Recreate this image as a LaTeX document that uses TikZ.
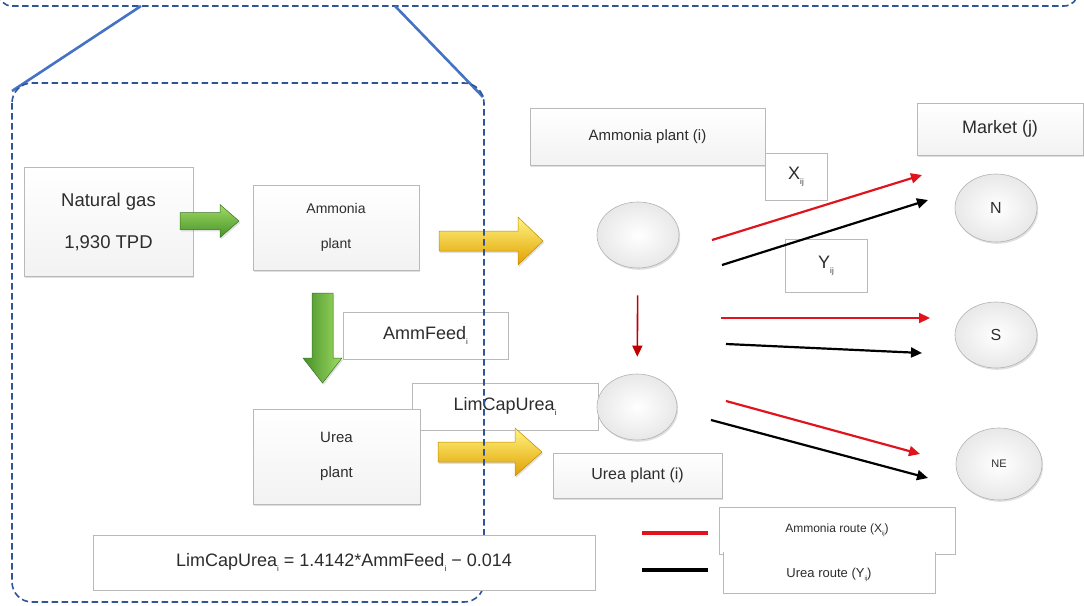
\documentclass[tikz,border=0pt]{standalone}
\usepackage{fontspec}
\setmainfont{Liberation Sans}
\usetikzlibrary{shapes.geometric,arrows.meta,shadows}
\definecolor{dashblue}{RGB}{47,85,151}
\definecolor{lineblue}{RGB}{68,114,196}
\definecolor{rred}{RGB}{225,20,30}
\definecolor{dred}{RGB}{192,0,0}
\definecolor{txt}{RGB}{45,45,45}
\definecolor{gtop}{RGB}{160,220,100}
\definecolor{gbot}{RGB}{70,145,40}
\definecolor{gdraw}{RGB}{60,115,40}
\definecolor{ytop}{RGB}{255,245,130}
\definecolor{ymid}{RGB}{255,215,0}
\definecolor{ybot}{RGB}{225,160,0}
\definecolor{ydraw}{RGB}{190,140,0}
\newcommand\sbs[2][8]{\raisebox{-0.5ex}{\fontsize{#1}{#1}\selectfont #2}}
\newcommand\harrow[7]{\path[#7] (#1,{#3-#4}) -- (#6,{#3-#4}) -- (#6,{#3-#5}) -- (#2,#3) -- (#6,{#3+#5}) -- (#6,{#3+#4}) -- (#1,{#3+#4}) -- cycle;}
\newcommand\varrow[7]{\path[#7] ({#3-#4},#1) -- ({#3-#4},#6) -- ({#3-#5},#6) -- (#3,#2) -- ({#3+#5},#6) -- ({#3+#4},#6) -- ({#3+#4},#1) -- cycle;}
\begin{document}
\begin{tikzpicture}[x=1pt,y=-1pt,
  shad/.style={drop shadow={shadow xshift=1.2pt, shadow yshift=-1.8pt, opacity=0.25}},
  box/.style={rectangle, draw=gray!55, line width=0.6pt, top color=white, bottom color=gray!10, inner sep=0pt, text=txt, shad},
  flat/.style={rectangle, draw=gray!55, line width=0.6pt, fill=white, inner sep=0pt, text=txt},
  ball/.style={ellipse, draw=gray!60, line width=0.6pt, inner color=white, outer color=gray!18, inner sep=0pt, text=txt, shad},
  dashbox/.style={draw=dashblue, line width=1.6pt, dash pattern=on 6.5pt off 3.5pt},
  zoomline/.style={draw=lineblue, line width=2.6pt},
  route/.style={line width=2.2pt, -{Triangle[length=11pt,width=10pt]}},
  garrowh/.style={top color=gtop, bottom color=gbot, draw=gdraw, line width=0.5pt, shad},
  garrowv/.style={left color=gbot, right color=gtop, draw=gdraw, line width=0.5pt, shad},
  yarrow/.style={top color=ytop, middle color=ymid, bottom color=ybot, draw=ydraw, line width=0.5pt, shad},
  legline/.style={line width=4pt}
]
\useasboundingbox (0,0) rectangle (1084,605);

% zoom call-out
\draw[dashbox, rounded corners=14] (-2,-40) rectangle (1078,6);
\draw[zoomline] (12,91) -- (141,6);
\draw[zoomline] (395,6) -- (483,97);

% left process boxes
\node[box, minimum width=169, minimum height=109, align=center, font=\fontsize{18.5}{42}\selectfont] (ng) at (108.5,222) {Natural gas\\1,930 TPD};
\node[box, minimum width=166, minimum height=85, align=center, font=\fontsize{14}{35}\selectfont] (ap) at (336,227.5) {Ammonia\\plant};
\node[flat, minimum width=165, minimum height=47, font=\fontsize{18}{20}\selectfont] (af) at (425.5,335.5) {AmmFeed\sbs{i}};
\node[flat, minimum width=186, minimum height=47, font=\fontsize{18}{20}\selectfont] (lc) at (505,406.5) {LimCapUrea\sbs{i}};
\node[box, minimum width=167, minimum height=95, align=center, font=\fontsize{15}{35}\selectfont] (up) at (336.5,456.5) {Urea\\plant};

% block arrows
\harrow{180}{239}{221}{8.5}{16.5}{220}{garrowh}
\varrow{293}{383}{322.5}{10.5}{19.5}{358}{garrowv}
\harrow{439}{543}{241}{10}{24}{518}{yarrow}
\harrow{438}{542}{452}{10}{24}{515}{yarrow}

% right network
\node[box, minimum width=235, minimum height=57, font=\fontsize{15}{18}\selectfont] (api) at (647.5,136.5) {Ammonia plant (i)};
\node[flat, minimum width=62, minimum height=47, font=\fontsize{18}{20}\selectfont] (x) at (796,176.5) {X\sbs{ij}};
\node[flat, minimum width=82, minimum height=53, font=\fontsize{18}{20}\selectfont] (y) at (826,265.5) {Y\sbs{ij}};
\node[box, minimum width=166, minimum height=52, font=\fontsize{18}{20}\selectfont] (mk) at (1000,129) {Market (j)};
\node[box, minimum width=169, minimum height=45, font=\fontsize{16}{18}\selectfont] (upi) at (637.5,475.5) {Urea plant (i)};

\node[ball, minimum width=82, minimum height=66] (an) at (638,235) {};
\node[ball, minimum width=80, minimum height=66] (un) at (637,407) {};
\node[ball, minimum width=82, minimum height=68, font=\fontsize{16}{18}\selectfont] (nN) at (996,208) {N};
\node[ball, minimum width=82, minimum height=66, font=\fontsize{16}{18}\selectfont] (nS) at (996,335) {S};
\node[ball, minimum width=86, minimum height=72, font=\fontsize{11}{13}\selectfont] (nNE) at (999,464) {NE};

\draw[dred, line width=1.6pt, -{Triangle[length=11pt,width=10pt]}, shorten <=27pt, shorten >=17pt] (an) -- (un);

\coordinate (rNs) at (712,240);  \coordinate (rNe) at (922,175);
\coordinate (bNs) at (722,265);  \coordinate (bNe) at (928,200);
\coordinate (rSs) at (721,318);  \coordinate (rSe) at (930,318);
\coordinate (bSs) at (726,344);  \coordinate (bSe) at (922,353);
\coordinate (rEs) at (726,401);  \coordinate (rEe) at (920,454);
\coordinate (bEs) at (711,420);  \coordinate (bEe) at (928,478);
\draw[route, rred] (rNs) -- (rNe);
\draw[route, black] (bNs) -- (bNe);
\draw[route, rred] (rSs) -- (rSe);
\draw[route, black] (bSs) -- (bSe);
\draw[route, rred] (rEs) -- (rEe);
\draw[route, black] (bEs) -- (bEe);

% zoomed region frame
\draw[dashbox, rounded corners=20] (12,83) rectangle (484,602);

% constraint
\node[flat, minimum width=502, minimum height=55, font=\fontsize{18}{20}\selectfont] (fm) at (344,562.5) {LimCapUrea\sbs{i} = 1.4142*AmmFeed\sbs{i} − 0.014};

% legend
\node[flat, minimum width=236, minimum height=47, font=\fontsize{12}{14}\selectfont] (lr) at (837,530.5) {Ammonia route (X\sbs[6]{ij})};
\node[rectangle, fill=white, inner sep=0pt, minimum width=212, minimum height=41, text=txt, font=\fontsize{13}{15}\selectfont, text depth=-6pt] (lu) at (829,572.5) {Urea route (Y\sbs[6]{ij})};
\draw[gray!55, line width=0.6pt] (lu.north west) -- (lu.south west) -- (lu.south east) -- (lu.north east);
\coordinate (lga) at (642,533); \coordinate (lgb) at (708,533);
\coordinate (lgc) at (642,570); \coordinate (lgd) at (708,570);
\draw[legline, rred] (lga) -- (lgb);
\draw[legline, black] (lgc) -- (lgd);
\end{tikzpicture}
\end{document}
